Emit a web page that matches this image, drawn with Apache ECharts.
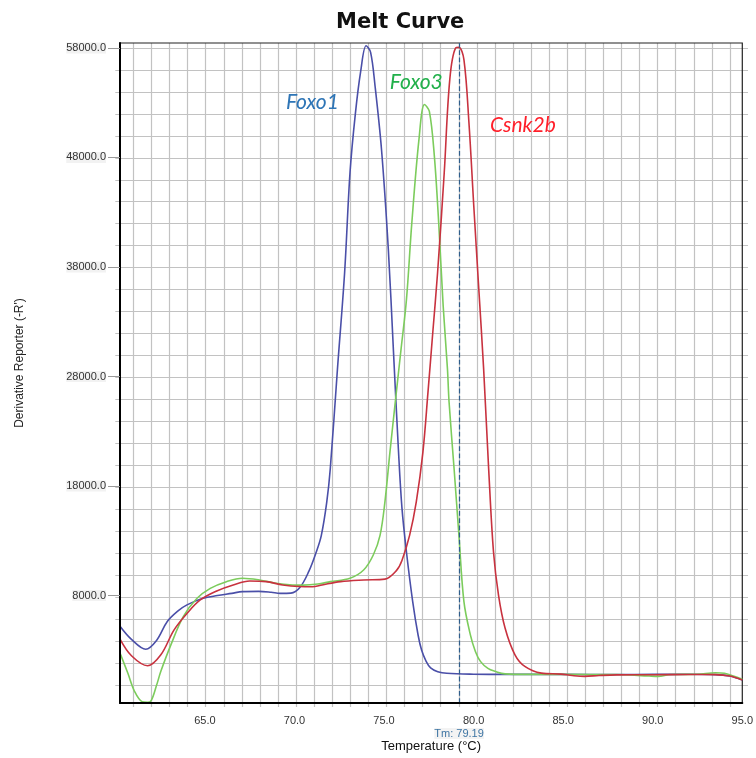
<!DOCTYPE html>
<html><head><meta charset="utf-8">
<script src="https://cdn.jsdelivr.net/npm/echarts@6/dist/echarts.min.js"></script>
<style>html,body{margin:0;padding:0;background:#fff}#c{width:756px;height:758px}</style>
</head><body><div id="c"></div>
<script>
// Melt curve data: [temperature °C, derivative reporter -R']
const foxo1 = [[60.26,5200],[60.9,4000],[61.7,3100],[62.3,3900],[62.9,5630],[63.5,6600],[64.0,7150],[64.9,7750],[65.7,8000],[66.5,8200],[67.1,8360],[68.0,8380],[68.7,8300],[69.2,8200],[69.8,8220],[70.3,8730],[70.8,10200],[71.2,11900],[71.5,13500],[71.8,16500],[72.0,19600],[72.4,28700],[72.8,37500],[73.1,46600],[73.4,52000],[73.7,55900],[74.0,58200],[74.25,57600],[74.5,54500],[74.86,48700],[75.24,39600],[75.52,30500],[75.8,21400],[76.0,16000],[76.25,12000],[76.6,7450],[76.9,4400],[77.1,3000],[77.35,2000],[77.6,1400],[78.0,1050],[78.5,900],[80,820],[82,800],[85,800],[88,790],[90,800],[92,810],[93.5,780],[94.3,650],[95,300]];
const foxo3 = [[60.26,2750],[60.7,900],[61.07,-740],[61.5,-1700],[61.8,-1750],[62.0,-1600],[62.3,-200],[62.54,1080],[63.1,3500],[63.8,6090],[64.56,7750],[65.3,8660],[66.2,9270],[67.1,9580],[68.05,9420],[68.97,9120],[69.9,8970],[70.5,8950],[71.3,9050],[72.0,9270],[73.1,9580],[73.86,10330],[74.4,11700],[74.78,13520],[75.05,16560],[75.33,21100],[75.65,26000],[75.95,30500],[76.25,35000],[76.55,42000],[76.95,49650],[77.26,52830],[77.53,52200],[77.81,48100],[78.05,42060],[78.3,34470],[78.54,28700],[78.63,25670],[78.91,19600],[79.18,13520],[79.46,7450],[79.82,4410],[80.1,2900],[80.38,1990],[80.8,1350],[81.2,1080],[81.76,850],[83,800],[85,800],[88,790],[89.8,650],[90.3,620],[91,790],[92.5,820],[93.5,950],[94.0,900],[94.5,650],[95,350]];
const csnk2b = [[60.26,4020],[60.9,2500],[61.8,1590],[62.54,2590],[63.28,4870],[64.01,6390],[64.74,7600],[65.66,8420],[66.58,8970],[67.5,9330],[68.42,9270],[69.34,8970],[70.25,8820],[71.0,8800],[71.54,8970],[72.57,9270],[73.86,9420],[75.05,9500],[75.7,10300],[76.0,11200],[76.43,13520],[76.8,16560],[77.17,21100],[77.45,26500],[77.72,32000],[77.99,37500],[78.36,46600],[78.67,55110],[79.0,58000],[79.18,58050],[79.46,56930],[79.74,51170],[80.01,43570],[80.29,35990],[80.56,28700],[80.84,19590],[81.11,12000],[81.39,8050],[81.76,5020],[82.31,2590],[82.86,1530],[83.78,920],[84.88,830],[85.5,700],[86.2,620],[87,700],[88,760],[90,770],[92,790],[93.5,780],[94.3,650],[95,300]];

const seriesNames = ['Foxo1','Foxo3','Csnk2b'];
const labelCoords = [[71.0,53000],[76.8,54900],[82.75,50900]];
const tmValue = 79.19;
const xMin = 60.26, xMax = 95, yMin = -1810, yMax = 58450;
const xLabelValues = [65,70,75,80,85,90,95];
const yLabelValues = [8000,18000,28000,38000,48000,58000];
const xGridStep = 1, yGridStep = 2000;

const lineColors = ['#4a4fa8','#7ccc5c','#c8323f'];
const textColors = ['#2e75b6','#22b04b','#ff1f2a'];
const datasets = [foxo1, foxo3, csnk2b];

// plot geometry
const G = {left:120, top:43, width:628, height:662};
// helper grid for gridlines: extends main grid so that its min is a multiple of the step
const gxMin = Math.floor(xMin/xGridStep)*xGridStep;
const gyMin = Math.floor(yMin/yGridStep)*yGridStep;
const pxPerX = G.width/(xMax-xMin), pxPerY = G.height/(yMax-yMin);
const G2 = {left:G.left-(xMin-gxMin)*pxPerX, top:G.top, width:G.width+(xMin-gxMin)*pxPerX, height:G.height+(yMin-gyMin)*pxPerY};

const chart = echarts.init(document.getElementById('c'), null, {renderer:'canvas'});
const series = datasets.map((d,i)=>({
  name: seriesNames[i], type:'line', data:d, showSymbol:false, smooth:0.35,
  xAxisIndex:0, yAxisIndex:0,
  lineStyle:{color:lineColors[i], width:1.6}, itemStyle:{color:lineColors[i]},
  clip:true, z: 3,
  markPoint:{
    silent:true, symbol:'circle', symbolSize:1, itemStyle:{color:'rgba(0,0,0,0)'},
    label:{show:true, position:'inside', formatter:seriesNames[i], color:textColors[i],
      fontFamily:'Lato', fontStyle:'italic', fontSize:21},
    data:[{coord:labelCoords[i]}]
  },
  markLine: i===2 ? {
    silent:true, symbol:'none', animation:false,
    lineStyle:{type:'dashed', color:'#2f5e8c', width:1.2},
    label:{show:true, position:'start', formatter:'Tm: '+tmValue.toFixed(2), color:'#3d74a3',
      fontFamily:'Liberation Sans', fontSize:11, distance:25, backgroundColor:'#f3f3f3'},
    data:[{xAxis:tmValue}]
  } : undefined
}));

const gridLineStyle = {color:'#c2c2c2', width:1.2};
chart.setOption({
  animation:false,
  backgroundColor:'#ffffff',
  title:{text:'Melt Curve', left:331, top:7,
    textStyle:{fontFamily:'DejaVu Sans', fontWeight:'bold', fontSize:21, color:'#111'}},
  grid:[
    {left:G.left, top:G.top, width:G.width, height:G.height, show:true, borderColor:'#222', borderWidth:1.2, z:1},
    {left:G2.left, top:G2.top, width:G2.width, height:G2.height, show:false}
  ],
  xAxis:[
    {type:'value', gridIndex:0, min:xMin, max:xMax,
      name:'Temperature (°C)', nameLocation:'middle', nameGap:37,
      nameTextStyle:{fontFamily:'Liberation Sans', fontSize:13, color:'#111'},
      axisLine:{show:true, onZero:false, lineStyle:{color:'#000', width:2}},
      axisTick:{show:false},
      axisLabel:{customValues:xLabelValues, formatter:v=>v.toFixed(1), fontFamily:'Liberation Sans', fontSize:11, color:'#333', margin:12},
      splitLine:{show:false}, z:5
    },
    {type:'value', gridIndex:1, min:gxMin, max:xMax, interval:xGridStep,
      axisLine:{show:false}, axisTick:{show:false}, axisLabel:{show:false},
      splitLine:{show:true, showMinLine:false, showMaxLine:false, lineStyle:gridLineStyle}
    }
  ],
  yAxis:[
    {type:'value', gridIndex:0, min:yMin, max:yMax,
      name:"Derivative Reporter (-R')", nameLocation:'middle', nameGap:94, nameRotate:90,
      nameTextStyle:{fontFamily:'Liberation Sans', fontSize:12, color:'#222', padding:[0,0,0,20]},
      axisLine:{show:true, onZero:false, lineStyle:{color:'#000', width:2}},
      axisTick:{show:true, customValues:yLabelValues, length:12, lineStyle:{color:'#999'}},
      axisLabel:{customValues:yLabelValues, formatter:v=>v.toFixed(1), fontFamily:'Liberation Sans', fontSize:11, color:'#333', margin:14, backgroundColor:'#f2f2f2'},
      splitLine:{show:false}, z:5
    },
    {type:'value', gridIndex:1, min:gyMin, max:yMax, interval:yGridStep,
      axisLine:{show:false}, axisTick:{show:false}, axisLabel:{show:false},
      splitLine:{show:true, showMinLine:false, showMaxLine:false, lineStyle:gridLineStyle}
    }
  ],
  series: series
});
</script></body></html>
